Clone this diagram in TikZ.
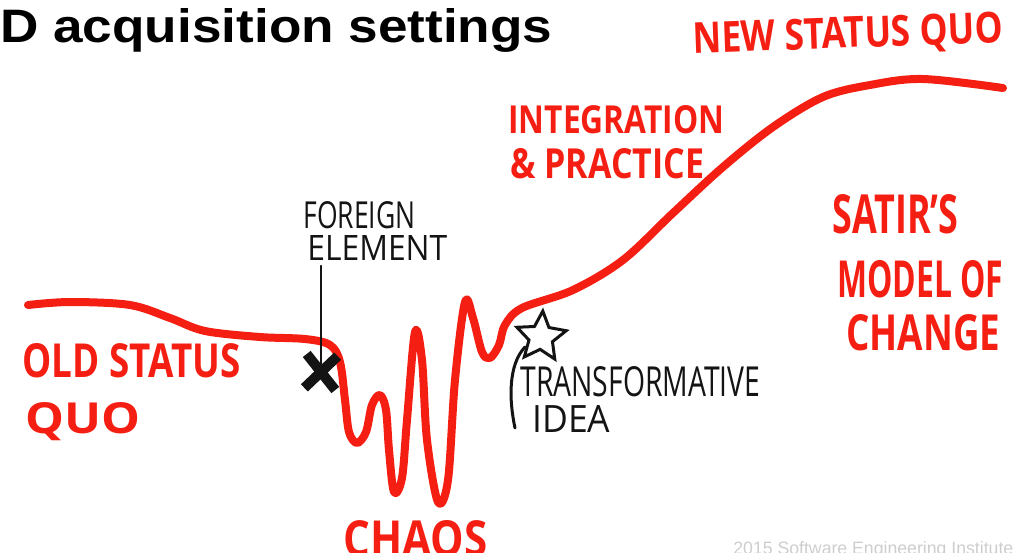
\documentclass[tikz,border=0pt]{standalone}
\usepackage{fontspec}
\setmainfont{Open Sans}
\newfontfamily\titlefont{Liberation Sans}
\usepackage{tikz}
\usetikzlibrary{shapes.geometric,shapes.misc,positioning}
\definecolor{handred}{RGB}{245,30,18}
\definecolor{ink}{RGB}{20,20,20}
\definecolor{footgray}{RGB}{205,205,205}
\newdimen\pxl \pxl=0.02cm
\newcommand{\hand}[3]{\resizebox{#1\pxl}{#2\pxl}{#3}}

\begin{document}
\begin{tikzpicture}[x=0.02cm, y=-0.02cm,
    redlabel/.style={text=handred, inner sep=0pt, anchor=north west, font=\bfseries},
    inklabel/.style={text=ink, inner sep=0pt, anchor=north west},
    change/.style={draw=handred, line width=0.16cm, line cap=round, line join=round},
    pen/.style={draw=ink, line width=0.06cm, line cap=round}]
  \useasboundingbox (0,0) rectangle (1022,552);

  % title and footer
  \node[inner sep=0pt, anchor=north west, font=\titlefont\bfseries] (title) at (0,8)
    {\hand{552}{34}{D acquisition settings}};
  \node[text=footgray, inner sep=0pt, anchor=north west, font=\titlefont] (footer) at (733,541)
    {\hand{280}{13}{2015 Software Engineering Institute}};

  % the curve
  \draw[change] plot[smooth, tension=0.55] coordinates {
    (28,305) (70,302) (130,305) (170,318) (205,331) (260,337) (305,339) (330,345)
    (340,362) (345,400) (349,432) (357,443) (366,432) (372,405) (380,395) (386,410)
    (389,450) (394,492) (402,478) (407,420) (415,332) (422,360) (427,440) (438,502)
    (448,480) (455,380) (465,302) (473,318) (482,352) (490,358) (499,345) (505,325)
    (522,308) (573,290) (623,260) (673,213) (723,167) (773,127) (823,97) (870,85)
    (923,79) (1003,88)};

  % red labels
  \node[redlabel, anchor=center, rotate=2] (newquo) at (848,36) {\hand{310}{31}{NEW STATUS QUO}};
  \node[redlabel] (integ) at (508,105) {\hand{216}{28}{INTEGRATION}};
  \node[redlabel] (practice) at (510,148) {\hand{194}{30}{\& PRACTICE}};
  \node[redlabel] (satir) at (832,194) {\hand{126}{39}{SATIR’S}};
  \node[redlabel] (model) at (837,260) {\hand{166}{37}{MODEL OF}};
  \node[redlabel] (changeword) at (846,314) {\hand{154}{36}{CHANGE}};
  \node[redlabel] (old1) at (22,343) {\hand{218}{34}{OLD STATUS}};
  \node[redlabel] (old2) at (25,402) {\hand{115}{31}{QUO}};
  \node[redlabel] (chaos) at (343,520) {\hand{144}{36}{CHAOS}};

  % black labels
  \node[inklabel] (foreign) at (303,201) {\hand{112}{27}{FOREIGN}};
  \node[inklabel] (elem) at (307,235) {\hand{140}{25}{ELEMENT}};
  \node[inklabel] (transf) at (520,366) {\hand{240}{30}{TRANSFORMATIVE}};
  \node[inklabel] (idea) at (532,405) {\hand{78}{27}{IDEA}};

  % marks
  \node[cross out, draw=ink, line width=0.2cm, minimum width=0.62cm, minimum height=0.68cm,
        inner sep=0pt, outer sep=0pt, rotate=-4] (cross) at (321,372) {};
  \draw[pen, line width=0.035cm, shorten >=0.1cm] (cross.center) -- (cross.center |- elem.south);
  \node[star, star points=5, star point ratio=2.1, draw=ink, line width=0.06cm,
        minimum size=1.04cm, inner sep=0pt, rotate=-4] (ideastar) at (541,337) {};
  \draw[pen] (525,347) .. controls (508,365) and (509,400) .. (515,428);
\end{tikzpicture}
\end{document}
